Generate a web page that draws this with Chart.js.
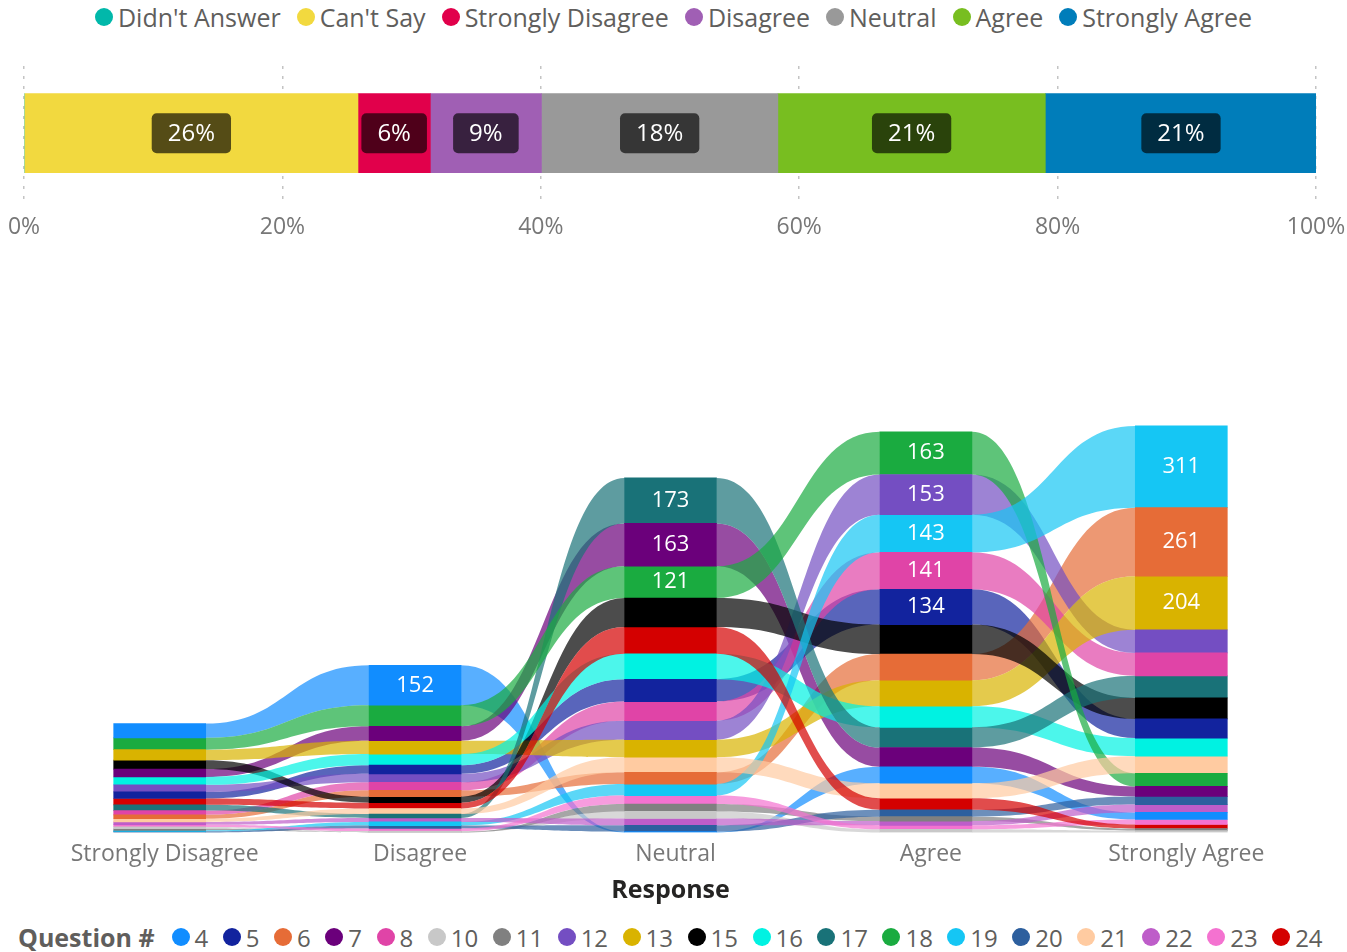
<!DOCTYPE html>
<html>
<head>
<meta charset="utf-8">
<title>Survey responses</title>
<script src="https://cdn.jsdelivr.net/npm/chart.js@4.4.1/dist/chart.umd.min.js"></script>
<style>
    body {
        margin: 0;
        width: 1347px;
        height: 952px;
        background: #fff;
        position: relative;
        overflow: hidden;
        font-family: "Segoe UI", "Open Sans", sans-serif;
    }
    .legend {
        position: absolute;
        display: flex;
        align-items: center;
        white-space: nowrap;
        color: #605E5C;
    }
    .legend .item { display: flex; align-items: center; }
    .legend .dot { width: 18px; height: 18px; border-radius: 50%; margin-right: 5px; }
    #topLegend { top: 1px; left: 0; width: 1347px; height: 32px; justify-content: center; font-size: 25px; }
    #topLegend .item { margin: 0 8px; }
    #bottomLegend { top: 920px; left: 18px; height: 34px; font-size: 24px; }
    #bottomLegend .title { font-weight: bold; font-size: 25px; margin-right: 17px; }
    #bottomLegend .item { margin-right: 14.5px; }
    #shareBox { position: absolute; left: 0; top: 59px; width: 1347px; height: 182px; }
    #ribbonBox { position: absolute; left: 0; top: 377px; width: 1347px; height: 530px; }
</style>
</head>
<body>
<div id="topLegend" class="legend"></div>
<div id="shareBox"><canvas id="shareChart"></canvas></div>
<div id="ribbonBox"><canvas id="ribbonChart"></canvas></div>
<div id="bottomLegend" class="legend"><span class="title">Question #</span></div>

<script>
// top bar: share of all answers
const answerTypes = ["Didn't Answer", "Can't Say", "Strongly Disagree", "Disagree", "Neutral", "Agree", "Strongly Agree"];
const answerShare = [0, 25.85, 5.6, 8.6, 18.3, 20.7, 21.0];
const answerColors = ["#01B8AA", "#F2D93F", "#E1004B", "#A05FB4", "#999999", "#78BE20", "#007DBA"];
const pctTicks = [0, 20, 40, 60, 80, 100];

// ribbon chart: counts per question for each response
const responses = ["Strongly Disagree", "Disagree", "Neutral", "Agree", "Strongly Agree"];
const questions = ["4", "5", "6", "7", "8", "10", "11", "12", "13", "15", "16", "17", "18", "19", "20", "21", "22", "23", "24"];
const q4 = [54, 152, 3, 63, 27];
const q5 = [25, 33, 85, 134, 73];
const q6 = [15, 24, 45, 100, 261];
const q7 = [30, 55, 163, 73, 38];
const q8 = [16, 31, 73, 141, 87];
const q10 = [7, 3, 27, 12, 7];
const q11 = [6, 2, 28, 17, 8];
const q12 = [27, 32, 72, 153, 88];
const q13 = [40, 51, 67, 99, 204];
const q15 = [34, 23, 110, 112, 80];
const q16 = [30, 42, 97, 80, 69];
const q17 = [22, 15, 173, 77, 84];
const q18 = [45, 80, 121, 163, 50];
const q19 = [4, 14, 44, 143, 311];
const q20 = [4, 11, 24, 26, 31];
const q21 = [12, 21, 57, 57, 65];
const q22 = [11, 15, 26, 16, 30];
const q23 = [8, 10, 32, 15, 19];
const q24 = [24, 22, 102, 44, 15];
const questionCounts = [q4, q5, q6, q7, q8, q10, q11, q12, q13, q15, q16, q17, q18, q19, q20, q21, q22, q23, q24];
const questionColors = ["#118DFF", "#12239E", "#E66C37", "#6B007B", "#E044A7", "#C8C8C8", "#808080", "#744EC2", "#D9B300",
    "#000000", "#00F2E2", "#197278", "#1AAB40", "#15C6F4", "#2D5F9E", "#FFCBA1", "#BE5DC9", "#F472D0", "#D40000"];

const FONT = '"Segoe UI", "Open Sans", sans-serif';
Chart.defaults.font.family = FONT;
Chart.defaults.animation = false;

function hexRgb(hex) {
    const n = parseInt(hex.slice(1), 16);
    return [(n >> 16) & 255, (n >> 8) & 255, n & 255];
}
function fade(hex, a) {
    const c = hexRgb(hex);
    return `rgba(${c[0]},${c[1]},${c[2]},${a})`;
}
function darken(hex, f) {
    const c = hexRgb(hex).map(v => Math.round(v * f));
    return `rgb(${c[0]},${c[1]},${c[2]})`;
}

// legends
const topLegend = document.getElementById("topLegend");
answerTypes.forEach((name, i) => {
    topLegend.innerHTML += `<span class="item"><span class="dot" style="background:${answerColors[i]}"></span>${name}</span>`;
});
const bottomLegend = document.getElementById("bottomLegend");
questions.forEach((q, i) => {
    bottomLegend.innerHTML += `<span class="item"><span class="dot" style="background:${questionColors[i]}"></span>${q}</span>`;
});

// ---- top 100% bar ----
const boxLabels = {
    id: "boxLabels",
    afterDatasetsDraw(chart) {
        const ctx = chart.ctx;
        ctx.save();
        ctx.font = "24px " + FONT;
        ctx.textAlign = "center";
        ctx.textBaseline = "middle";
        chart.data.datasets.forEach((ds, i) => {
            const v = ds.data[0];
            if (v < 1) return;
            const el = chart.getDatasetMeta(i).data[0];
            const cx = (el.x + el.base) / 2, cy = el.y;
            const txt = Math.round(v) + "%";
            const w = ctx.measureText(txt).width + 32, h = 40;
            ctx.fillStyle = darken(answerColors[i], 0.35);
            ctx.beginPath();
            ctx.roundRect(cx - w / 2, cy - h / 2, w, h, 5);
            ctx.fill();
            ctx.fillStyle = "#fff";
            ctx.fillText(txt, cx, cy + 1);
        });
        ctx.restore();
    }
};

new Chart(document.getElementById("shareChart"), {
    type: "bar",
    data: {
        labels: ["All"],
        datasets: answerTypes.map((name, i) => ({
            label: name,
            data: [answerShare[i]],
            backgroundColor: answerColors[i],
            borderWidth: 0,
            barThickness: 79
        }))
    },
    options: {
        indexAxis: "y",
        responsive: true,
        maintainAspectRatio: false,
        layout: { padding: { top: 7, left: 24, right: 31, bottom: 0 } },
        plugins: { legend: { display: false }, tooltip: { enabled: false } },
        scales: {
            x: {
                stacked: true,
                min: 0,
                max: 100,
                afterBuildTicks: axis => { axis.ticks = pctTicks.map(v => ({ value: v })); },
                ticks: { callback: v => v + "%", color: "#777", font: { size: 23 }, padding: 0, maxRotation: 0 },
                grid: { color: "#c4c4c4", lineWidth: 1.5, drawTicks: true, tickLength: 13, tickColor: "rgba(0,0,0,0)" },
                border: { display: false, dash: [3, 7] }
            },
            y: { stacked: true, display: false }
        }
    },
    plugins: [boxLabels]
});

// ---- ribbon chart ----
// stack each response column by rank: biggest question on top
const ranges = questionCounts.map(() => []);
responses.forEach((r, j) => {
    const order = questionCounts.map((c, i) => i).sort((a, b) => questionCounts[b][j] - questionCounts[a][j] || a - b);
    let base = 0;
    for (let k = order.length - 1; k >= 0; k--) {
        const i = order[k];
        ranges[i][j] = [base, base + questionCounts[i][j]];
        base += questionCounts[i][j];
    }
});

const ribbons = {
    id: "ribbons",
    beforeDatasetsDraw(chart) {
        const ctx = chart.ctx;
        ctx.save();
        chart.data.datasets.forEach((ds, i) => {
            const bars = chart.getDatasetMeta(i).data;
            ctx.fillStyle = fade(questionColors[i], 0.7);
            for (let j = 0; j < bars.length - 1; j++) {
                const a = bars[j], b = bars[j + 1];
                const x1 = a.x + a.width / 2, x2 = b.x - b.width / 2, mx = (x1 + x2) / 2;
                const aTop = Math.min(a.y, a.base), aBot = Math.max(a.y, a.base);
                const bTop = Math.min(b.y, b.base), bBot = Math.max(b.y, b.base);
                ctx.beginPath();
                ctx.moveTo(x1, aTop);
                ctx.bezierCurveTo(mx, aTop, mx, bTop, x2, bTop);
                ctx.lineTo(x2, bBot);
                ctx.bezierCurveTo(mx, bBot, mx, aBot, x1, aBot);
                ctx.closePath();
                ctx.fill();
            }
        });
        ctx.restore();
    },
    afterDatasetsDraw(chart) {
        const ctx = chart.ctx;
        ctx.save();
        ctx.font = "22px " + FONT;
        ctx.fillStyle = "#fff";
        ctx.textAlign = "center";
        ctx.textBaseline = "middle";
        chart.data.datasets.forEach((ds, i) => {
            chart.getDatasetMeta(i).data.forEach((el, j) => {
                const v = questionCounts[i][j];
                if (v < 120) return;
                ctx.fillText(String(v), el.x, (el.y + el.base) / 2);
            });
        });
        ctx.restore();
    }
};

new Chart(document.getElementById("ribbonChart"), {
    type: "bar",
    data: {
        labels: responses,
        datasets: questions.map((q, i) => ({
            label: q,
            data: ranges[i],
            backgroundColor: questionColors[i],
            borderWidth: 0,
            barThickness: 92,
            grouped: false
        }))
    },
    options: {
        responsive: true,
        maintainAspectRatio: false,
        layout: { padding: { top: 35, left: 32, right: 38, bottom: 0 } },
        plugins: { legend: { display: false }, tooltip: { enabled: false } },
        scales: {
            x: {
                grid: { display: false, drawTicks: false },
                border: { display: false },
                ticks: { color: "#777", font: { size: 23 }, padding: 8, labelOffset: 5, maxRotation: 0 },
                title: { display: true, text: "Response", color: "#252423", font: { size: 25, weight: "bold" }, padding: { top: 0, bottom: 1 } }
            },
            y: { display: false, min: 0, max: 1600 }
        }
    },
    plugins: [ribbons]
});
</script>
</body>
</html>
